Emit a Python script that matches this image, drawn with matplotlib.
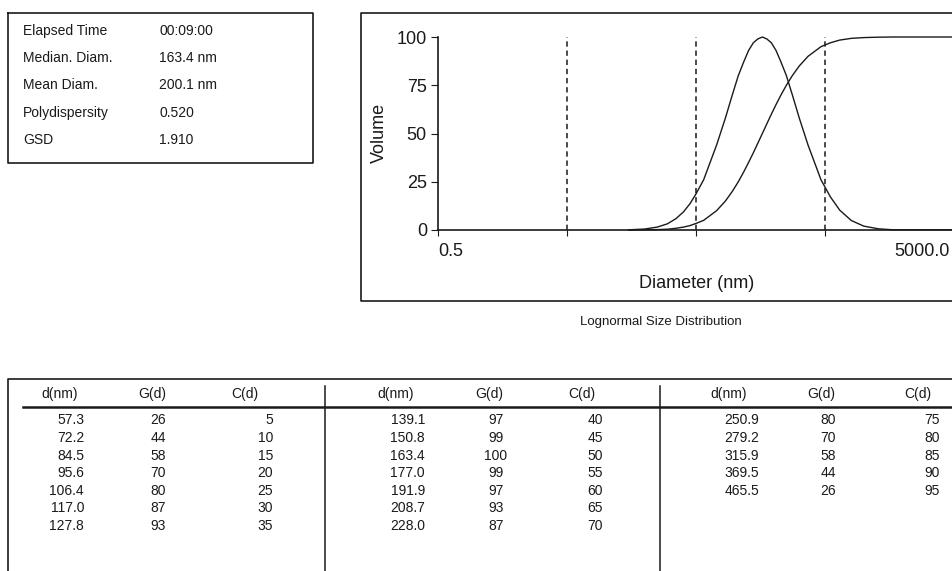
import numpy as np
import matplotlib
matplotlib.use("Agg")
import matplotlib.pyplot as plt
from matplotlib import font_manager as fm
from matplotlib.transforms import offset_copy

# summary box
info_labels = ["Elapsed Time", "Median. Diam.", "Mean Diam.", "Polydispersity", "GSD"]
info_values = ["00:09:00", "163.4 nm", "200.1 nm", "0.520", "1.910"]

# table values (also the points of the curves)
d_tab = [57.3, 72.2, 84.5, 95.6, 106.4, 117.0, 127.8, 139.1, 150.8, 163.4,
         177.0, 191.9, 208.7, 228.0, 250.9, 279.2, 315.9, 369.5, 465.5]
g_tab = [26, 44, 58, 70, 80, 87, 93, 97, 99, 100, 99, 97, 93, 87, 80, 70, 58, 44, 26]
c_tab = [5, 10, 15, 20, 25, 30, 35, 40, 45, 50, 55, 60, 65, 70, 75, 80, 85, 90, 95]

# tails
d_lo = [15, 20, 25, 30, 35, 40, 45, 50]
g_lo = [0.1, 0.5, 1.5, 3.2, 5.9, 9.4, 13.7, 18.7]
c_lo = [0.0, 0.1, 0.2, 0.4, 0.9, 1.5, 2.3, 3.4]
d_hi = [550, 650, 800, 1000, 1300, 1700, 30000]
g_hi = [17.2, 10.3, 4.9, 2.0, 0.6, 0.1, 0.0]
c_hi = [97.0, 98.4, 99.3, 99.7, 99.9, 100, 100]

guides = [5, 50, 500]
xticks = [0.5, 5, 50, 500, 5000]
xticklabels = ["0.5", "", "", "", "5000.0"]
yticks = [0, 25, 50, 75, 100]

names = {f.name for f in fm.fontManager.ttflist}
txt_font = "Liberation Sans" if "Liberation Sans" in names else "DejaVu Sans"
chart_font = "Liberation Sans Narrow" if "Liberation Sans Narrow" in names else txt_font
ink = "#1a1a1a"

fig = plt.figure(figsize=(9.52, 5.71), dpi=100)

# pixel canvas for boxes and table
bg = fig.add_axes([0, 0, 1, 1], zorder=0)
bg.set_xlim(0, 952)
bg.set_ylim(571, 0)
bg.axis("off")

# info box
bg.plot([8, 313, 313, 8, 8], [13, 13, 163, 163, 13], color=ink, lw=1.2)
for i, (lab, val) in enumerate(zip(info_labels, info_values)):
    y = 31 + i * 27.2
    bg.text(23, y, lab, fontsize=10, family=txt_font, va="center", color=ink)
    bg.text(159, y, val, fontsize=10, family=txt_font, va="center", color=ink)

# chart frame + caption
bg.plot([960, 361, 361, 960], [13, 13, 301, 301], color=ink, lw=1.2)
bg.text(661, 322, "Lognormal Size Distribution", fontsize=9.5, family=txt_font,
        ha="center", va="center", color=ink)

# table
top, hdr_y, rule_y, row0, row_h = 379, 394, 407, 420.5, 17.6
bg.plot([8, 8, 960], [575, top, top], color=ink, lw=1.2)
bg.plot([23, 960], [rule_y, rule_y], color=ink, lw=1.8)
for xd in [325, 660]:
    bg.plot([xd, xd], [top + 7, 575], color=ink, lw=1.1)

hdr_x = [(60, 152, 245), (396, 489, 582), (729, 821, 918)]
val_x = [(84, 158, 273), (425, 496, 603), (759, 828, 940)]
blocks = [(0, 7), (7, 14), (14, 19)]
for b, (s, e) in enumerate(blocks):
    for x, h in zip(hdr_x[b], ["d(nm)", "G(d)", "C(d)"]):
        bg.text(x, hdr_y, h, fontsize=10, family=txt_font, ha="center", va="center", color=ink)
    vx = val_x[b]
    for r, k in enumerate(range(s, e)):
        y = row0 + r * row_h
        bg.text(vx[0], y, f"{d_tab[k]:.1f}", fontsize=10, family=txt_font,
                ha="right", va="center", color=ink)
        bg.text(vx[1], y, f"{g_tab[k]}", fontsize=10, family=txt_font,
                ha="center", va="center", color=ink)
        bg.text(vx[2], y, f"{c_tab[k]}", fontsize=10, family=txt_font,
                ha="right", va="center", color=ink)

# the plot
px_dec = 129.0
x0, x1 = 438, 1000
ax = fig.add_axes([x0 / 952, (571 - 230) / 571, (x1 - x0) / 952, (230 - 37) / 571], zorder=2)
ax.patch.set_alpha(0)
ax.set_xscale("log")
ax.set_xlim(0.5, 0.5 * 10 ** ((x1 - x0) / px_dec))
ax.set_ylim(0, 100)

d_all = d_lo + d_tab + d_hi
ax.plot(d_all, g_lo + g_tab + g_hi, color=ink, lw=1.0, clip_on=False)
ax.plot(d_all, c_lo + c_tab + c_hi, color=ink, lw=1.0, clip_on=False)
ax.vlines(guides, 0, 100, colors=ink, linestyles=(0, (3.5, 2.5)), lw=1.1)

for s in ["top", "right"]:
    ax.spines[s].set_visible(False)
for s in ["left", "bottom"]:
    ax.spines[s].set_color(ink)
    ax.spines[s].set_linewidth(1.2)

ax.xaxis.set_minor_locator(matplotlib.ticker.NullLocator())
ax.set_xticks(xticks)
ax.set_xticklabels(xticklabels, family=chart_font, fontsize=13, color=ink)
ax.set_yticks(yticks)
ax.set_yticklabels([str(v) for v in yticks], family=chart_font, fontsize=13, color=ink)
ax.tick_params(axis="x", length=4, pad=5, color=ink)
ax.tick_params(axis="y", length=5, pad=3, color=ink)
labs = ax.get_xticklabels()
labs[0].set_ha("left")
labs[-1].set_ha("right")
labs[-1].set_transform(offset_copy(labs[-1].get_transform(), fig=fig, x=-4, units="dots"))

fig.text(379 / 952, 1 - 133 / 571, "Volume", rotation=90, family=chart_font, fontsize=13,
         ha="center", va="center", color=ink)
fig.text(697 / 952, 1 - 283 / 571, "Diameter (nm)", family=chart_font, fontsize=13,
         ha="center", va="center", color=ink)

fig.savefig("out.png", dpi=100)
